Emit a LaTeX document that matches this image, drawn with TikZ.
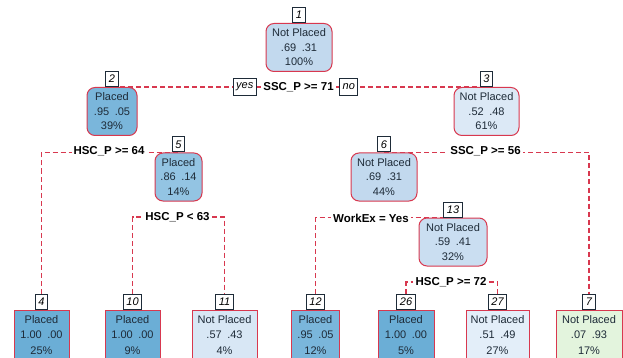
\documentclass[tikz,border=0pt]{standalone}
\usepackage{fontspec}
\setmainfont{Liberation Sans}
\usetikzlibrary{positioning,backgrounds}
\definecolor{rosy}{HTML}{D8384F}
\definecolor{ink}{HTML}{1E2B38}
\definecolor{pa100}{HTML}{6BAED6}
\definecolor{pa95}{HTML}{7AB6DB}
\definecolor{pa86}{HTML}{93C4E3}
\definecolor{np69}{HTML}{C2D9EE}
\definecolor{np59}{HTML}{CADEF1}
\definecolor{np57}{HTML}{D8E7F5}
\definecolor{np52}{HTML}{DCE9F6}
\definecolor{np51}{HTML}{E3EEF9}
\definecolor{np07}{HTML}{E3F4DD}

\begin{document}
\begin{tikzpicture}[x=1pt,y=-1pt,line width=1pt,
  split/.style={draw=rosy,rounded corners=8pt,align=center,inner sep=0pt,
    minimum height=48pt,text=ink,font=\fontsize{11}{14.5}\selectfont},
  leaf/.style={draw=rosy,align=center,inner sep=0pt,minimum height=50pt,
    text=ink,font=\fontsize{11}{15.5}\selectfont},
  num/.style={draw=ink,fill=white,inner xsep=3pt,inner ysep=0pt,
    minimum height=15pt,font=\fontsize{11}{12}\itshape},
  rule/.style={fill=white,inner xsep=2pt,inner ysep=1pt,
    font=\fontsize{11.5}{12}\bfseries},
  tag/.style={draw=ink,fill=white,inner xsep=3pt,inner ysep=0pt,
    minimum height=17pt,font=\fontsize{11}{12}\itshape},
  branch/.style={draw=rosy,line width=1.1pt,dash pattern=on 5pt off 3pt}]
\useasboundingbox (0,0) rectangle (623,358);

\node[split,fill=np69,minimum width=66pt] (n1) at (299,47.5) {Not Placed\\.69\enspace.31\\100\%};
\node[split,fill=pa95,minimum width=50pt] (n2) at (112,111.5) {Placed\\.95\enspace.05\\39\%};
\node[split,fill=np52,minimum width=65pt] (n3) at (486.5,111.5) {Not Placed\\.52\enspace.48\\61\%};
\node[split,fill=pa86,minimum width=47pt] (n5) at (178.5,177) {Placed\\.86\enspace.14\\14\%};
\node[split,fill=np69,minimum width=66pt] (n6) at (384,177) {Not Placed\\.69\enspace.31\\44\%};
\node[split,fill=np59,minimum width=68pt] (n13) at (453,242) {Not Placed\\.59\enspace.41\\32\%};

\node[leaf,fill=pa100,minimum width=55pt] (l4) at (41.5,335) {Placed\\1.00\enspace.00\\25\%};
\node[leaf,fill=pa100,minimum width=55pt] (l10) at (132.5,335) {Placed\\1.00\enspace.00\\9\%};
\node[leaf,fill=np57,minimum width=65pt] (l11) at (224.5,335) {Not Placed\\.57\enspace.43\\4\%};
\node[leaf,fill=pa95,minimum width=48pt] (l12) at (315.5,335) {Placed\\.95\enspace.05\\12\%};
\node[leaf,fill=pa100,minimum width=56pt] (l26) at (406,335) {Placed\\1.00\enspace.00\\5\%};
\node[leaf,fill=np51,minimum width=63pt] (l27) at (497.5,335) {Not Placed\\.51\enspace.49\\27\%};
\node[leaf,fill=np07,minimum width=66pt] (l7) at (589,335) {Not Placed\\.07\enspace.93\\17\%};

\node[num,above=0pt of n1] (k1) {1};
\node[num,above=0pt of n2] (k2) {2};
\node[num,above=0pt of n3] (k3) {3};
\node[num,above=0pt of n5] (k5) {5};
\node[num,above=0pt of n6] (k6) {6};
\node[num,above=0pt of n13] (k13) {13};
\node[num,above=0pt of l4] (k4) {4};
\node[num,above=0pt of l10] (k10) {10};
\node[num,above=0pt of l11] (k11) {11};
\node[num,above=0pt of l12] (k12) {12};
\node[num,above=0pt of l26] (k26) {26};
\node[num,above=0pt of l27] (k27) {27};
\node[num,above=0pt of l7] (k7) {7};

\node[rule] (s1) at (298.5,87) {SSC\_P >= 71};
\node[tag,left=4pt of s1] (yes) {yes};
\node[tag,right=3pt of s1] (no) {no};
\node[rule] (s2) at (109,151) {HSC\_P >= 64};
\node[rule] (s3) at (485.5,151) {SSC\_P >= 56};
\node[rule] (s4) at (177.5,217) {HSC\_P < 63};
\node[rule] (s5) at (371,218) {WorkEx = Yes};
\node[rule] (s6) at (451,282) {HSC\_P >= 72};

\begin{pgfonlayer}{background}
\draw[branch] (n2.north) -- (n3.north);
\draw[branch] (l4.north) |- (n5.north);
\draw[branch] (n6.north) -| (l7.north);
\draw[branch] (l10.north) |- (s4) -| (l11.north);
\draw[branch] (l12.north) |- (n13.north);
\draw[branch] (l26.north) |- (s6) -| (l27.north);
\end{pgfonlayer}
\end{tikzpicture}
\end{document}
